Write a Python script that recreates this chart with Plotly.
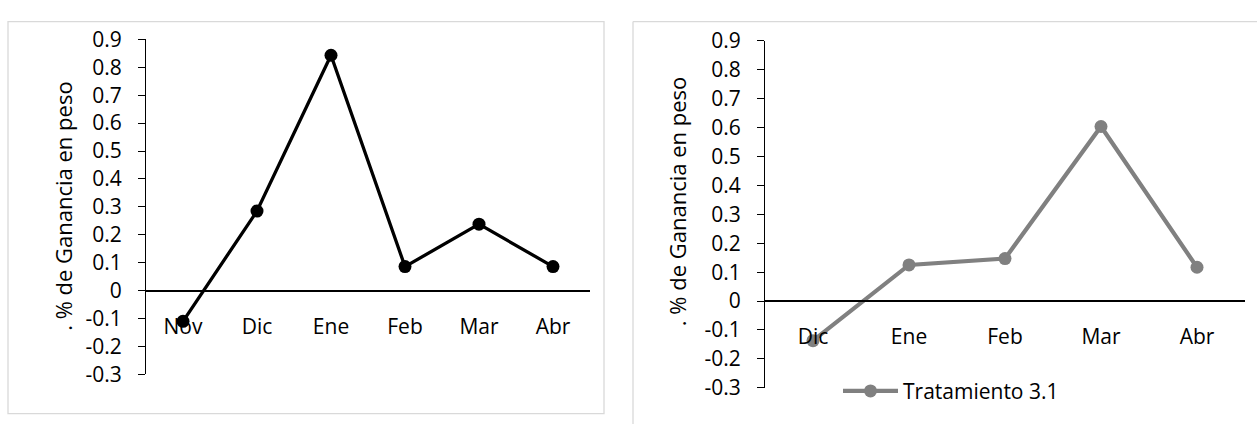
import plotly.graph_objects as go

# ---- data ----
left_months = ["Nov", "Dic", "Ene", "Feb", "Mar", "Abr"]
left_values = [-0.11, 0.285, 0.843, 0.086, 0.238, 0.086]

right_months = ["Dic", "Ene", "Feb", "Mar", "Abr"]
right_values = [-0.137, 0.125, 0.147, 0.604, 0.117]
right_name = "Tratamiento 3.1"

y_ticks = [0.9, 0.8, 0.7, 0.6, 0.5, 0.4, 0.3, 0.2, 0.1, 0, -0.1, -0.2, -0.3]
y_tick_text = ["0.9", "0.8", "0.7", "0.6", "0.5", "0.4", "0.3", "0.2", "0.1", "0", "-0.1", "-0.2", "-0.3"]
y_title = ". % de Ganancia en peso"

W, H = 1257, 437
FONT = "Open Sans"


def fx(px):
    return px / W


def fy(py):
    return 1 - py / H


ymin, ymax = -0.3, 0.9

# plot areas (pixel geometry)
L_x0, L_x1, L_ytop, L_ybot = 146, 590, 26, 384
R_x0, R_x1, R_ytop, R_ybot = 765, 1245, 27.7, 398.3

L_ydom = [fy(L_ybot), fy(L_ytop)]
R_ydom = [fy(R_ybot), fy(R_ytop)]


def zero_pos(dom):
    return dom[0] + (0 - ymin) / (ymax - ymin) * (dom[1] - dom[0])


fig = go.Figure()

fig.add_trace(go.Scatter(
    x=left_months, y=left_values, mode="lines+markers",
    line=dict(color="#000000", width=3.3),
    marker=dict(color="#000000", size=13),
    xaxis="x", yaxis="y", showlegend=False, name="Tratamiento",
))

fig.add_trace(go.Scatter(
    x=right_months, y=right_values, mode="lines+markers",
    line=dict(color="#808080", width=4.2),
    marker=dict(color="#808080", size=13),
    xaxis="x2", yaxis="y2", showlegend=True, name=right_name,
))

tickfont = dict(family=FONT, size=21, color="#000000")

yaxis_common = dict(
    range=[ymin, ymax], tickvals=y_ticks, ticktext=y_tick_text,
    showgrid=False, zeroline=False, showline=True, linecolor="#000000", linewidth=1,
    ticks="outside", ticklen=7, tickcolor="#000000", tickwidth=1,
    tickfont=tickfont, ticklabelstandoff=12, fixedrange=True,
)

xaxis_common = dict(
    type="category", showgrid=False, zeroline=False, showline=True,
    linecolor="#000000", linewidth=1.5, ticks="outside", ticklen=17,
    tickcolor="rgba(0,0,0,0)", tickfont=tickfont, anchor="free", fixedrange=True,
)

fig.update_layout(
    width=W, height=H,
    margin=dict(l=0, r=0, t=0, b=0),
    paper_bgcolor="white", plot_bgcolor="rgba(0,0,0,0)",
    font=dict(family=FONT, color="#000000"),
    xaxis=dict(domain=[fx(L_x0), fx(L_x1)], range=[-0.5, len(left_months) - 0.5],
               position=zero_pos(L_ydom), **xaxis_common),
    yaxis=dict(domain=L_ydom, anchor="x", **yaxis_common),
    xaxis2=dict(domain=[fx(R_x0), fx(R_x1)], range=[-0.5, len(right_months) - 0.5],
                position=zero_pos(R_ydom), **xaxis_common),
    yaxis2=dict(domain=R_ydom, anchor="x2", **yaxis_common),
    legend=dict(
        x=fx(838), y=fy(402), xanchor="left", yanchor="middle",
        font=dict(family=FONT, size=21, color="#000000"),
        bgcolor="rgba(0,0,0,0)", itemwidth=55,
    ),
    annotations=[
        dict(text=y_title, textangle=-90, x=fx(63), y=fy(205), xref="paper", yref="paper",
             showarrow=False, font=dict(family=FONT, size=22, color="#000000"),
             xanchor="center", yanchor="middle"),
        dict(text=y_title, textangle=-90, x=fx(677), y=fy(200), xref="paper", yref="paper",
             showarrow=False, font=dict(family=FONT, size=22, color="#000000"),
             xanchor="center", yanchor="middle"),
    ],
    shapes=[
        dict(type="rect", xref="paper", yref="paper", x0=fx(8), x1=fx(604), y0=fy(426), y1=fy(7),
             line=dict(color="#d9d9d9", width=1.3), fillcolor="rgba(0,0,0,0)", layer="below"),
        dict(type="line", xref="paper", yref="paper", x0=fx(633), x1=fx(1257), y0=fy(7), y1=fy(7),
             line=dict(color="#d9d9d9", width=1.3), layer="below"),
        dict(type="line", xref="paper", yref="paper", x0=fx(633), x1=fx(633), y0=fy(437), y1=fy(7),
             line=dict(color="#d9d9d9", width=1.3), layer="below"),
    ],
)

fig.write_html("out.html")
